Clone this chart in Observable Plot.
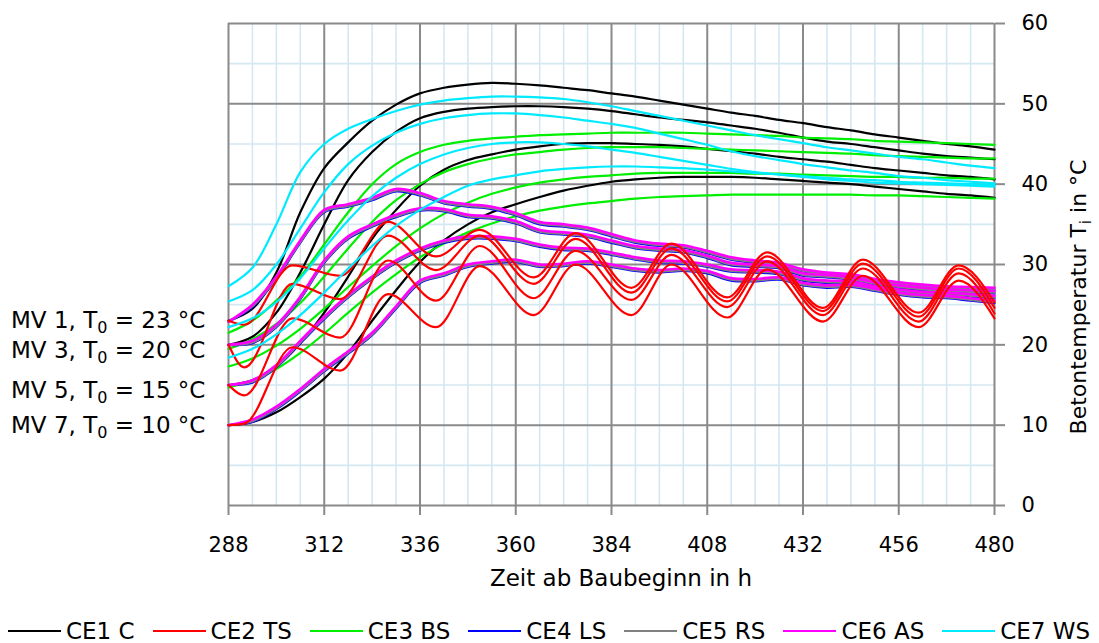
<!DOCTYPE html>
<html><head><meta charset="utf-8">
<script src="https://cdn.jsdelivr.net/npm/d3@7"></script>
<script src="https://cdn.jsdelivr.net/npm/@observablehq/plot@0.6"></script>
<style>
body{margin:0;background:#fff;font-family:"DejaVu Sans",sans-serif;}
#legend{display:flex;align-items:center;height:26px;padding-left:8px;font-size:23px;white-space:nowrap;color:#000}
.item{display:flex;align-items:center;margin-right:18px}
.sw{width:53px;height:0;border-top:2.5px solid;margin-right:5px}
</style></head><body>
<div id="chart"></div>
<div id="legend"></div>
<script>
// ---- axes / ticks ----
const xTicks = [288, 312, 336, 360, 384, 408, 432, 456, 480];
const xMinor = [294, 300, 306, 318, 324, 330, 342, 348, 354, 366, 372, 378, 390, 396, 402, 414, 420, 426, 438, 444, 450, 462, 468, 474];
const yTicks = [0, 10, 20, 30, 40, 50, 60];
const yMinor = [5, 15, 25, 35, 45, 55];

// ---- series meta ----
const seriesNames = ["CE1 C", "CE2 TS", "CE3 BS", "CE4 LS", "CE5 RS", "CE6 AS", "CE7 WS"];
const seriesColors = ["#000000", "#ff0000", "#00ee00", "#0000ff", "#808080", "#ff00ff", "#00eaff"];
const mvLabels = ["MV 1", "MV 3", "MV 5", "MV 7"];
const mvT0 = [23, 20, 15, 10];

// ---- common time axis (h) for smooth series ----
const hours = [288,294,300,306,312,318,324,330,336,342,348,354,360,366,372,378,384,390,396,402,408,414,420,426,432,438,444,450,456,462,468,474,480];

// CE1 C (black)
const c1 = [23.0,24.5,29.0,36.5,42.0,45.2,47.9,49.9,51.3,52.0,52.4,52.6,52.5,52.3,52.0,51.7,51.3,50.9,50.4,49.9,49.4,48.9,48.5,48.0,47.6,47.1,46.7,46.2,45.8,45.4,45.0,44.7,44.3];
const c2 = [20.0,21.0,24.0,29.0,35.0,40.5,44.0,46.5,48.2,49.0,49.4,49.6,49.7,49.7,49.6,49.4,49.1,48.7,48.3,48.0,47.7,47.3,46.9,46.4,45.8,45.3,45.0,44.6,44.2,43.8,43.5,43.3,43.1];
const c3 = [15.0,15.6,17.3,20.2,24.0,28.5,33.2,36.8,39.8,41.8,43.0,43.7,44.3,44.7,45.0,45.1,45.1,45.0,44.9,44.7,44.4,44.1,43.8,43.4,43.1,42.8,42.4,42.0,41.7,41.4,41.1,40.9,40.6];
const c4 = [10.0,10.4,11.6,13.5,15.8,19.0,23.0,26.8,30.3,33.0,35.0,36.5,37.5,38.4,39.2,39.8,40.3,40.6,40.8,40.9,40.9,40.9,40.8,40.6,40.4,40.2,40.0,39.7,39.4,39.1,38.8,38.6,38.3];

// CE3 BS (green)
const g1 = [21.5,23.0,25.5,28.5,32.5,36.5,40.0,42.5,44.0,44.9,45.4,45.7,45.9,46.1,46.2,46.3,46.4,46.4,46.4,46.4,46.3,46.2,46.1,46.0,45.8,45.7,45.6,45.4,45.3,45.2,45.1,45.0,44.9];
const g2 = [19.5,20.7,22.6,25.2,28.5,32.0,35.3,38.0,40.0,41.5,42.5,43.2,43.7,44.0,44.3,44.5,44.6,44.6,44.6,44.5,44.4,44.3,44.2,44.1,44.0,43.9,43.8,43.6,43.5,43.4,43.3,43.2,43.2];
const g3 = [17.3,18.3,19.9,22.0,24.5,27.2,29.8,32.3,34.5,36.3,37.7,38.8,39.6,40.2,40.6,40.9,41.1,41.3,41.4,41.4,41.4,41.4,41.3,41.3,41.2,41.1,41.0,40.9,40.9,40.8,40.8,40.7,40.7];
const g4 = [14.7,15.6,17.0,19.0,21.4,24.0,26.5,28.8,30.9,32.6,34.0,35.1,36.0,36.7,37.2,37.6,37.9,38.2,38.4,38.5,38.6,38.7,38.7,38.7,38.7,38.7,38.7,38.6,38.6,38.5,38.4,38.3,38.2];

// CE4 LS (blue)
const l1 = [22.9,24.7,28.2,32.7,36.5,37.2,38.0,39.1,38.6,37.6,37.2,36.9,36.1,35.0,34.7,34.3,33.5,32.7,32.3,32.1,31.4,30.6,30.2,29.9,29.1,28.7,28.5,27.9,27.5,27.2,27.0,26.9,26.8];
const l2 = [20.0,20.2,22.2,25.7,30.2,33.2,34.7,35.9,36.7,36.6,35.9,35.7,35.1,34.0,33.7,33.4,32.7,32.0,31.7,31.5,30.8,29.9,29.7,29.5,28.6,28.4,28.1,27.5,27.1,26.8,26.6,26.5,26.4];
const l3 = [15.0,15.3,17.2,20.2,23.2,25.9,28.2,30.2,31.7,32.7,33.2,33.2,32.9,32.2,31.8,31.7,31.2,30.6,30.2,30.1,29.7,29.1,29.0,28.8,28.0,27.7,27.6,27.0,26.6,26.3,26.2,26.0,25.8];
const l4 = [10.0,10.4,12.0,14.2,16.7,18.9,21.2,24.5,27.7,28.6,29.7,30.1,30.3,29.7,29.8,30.1,29.7,29.2,29.0,29.2,28.9,28.0,27.9,28.1,27.4,27.1,27.2,26.7,26.2,25.9,25.8,25.5,25.2];

// CE5 RS (gray)
const r1 = [22.9,24.8,28.3,32.8,36.6,37.3,38.1,39.2,38.7,37.7,37.3,37.0,36.2,35.1,34.8,34.4,33.6,32.8,32.4,32.2,31.5,30.7,30.3,30.0,29.2,28.8,28.6,28.0,27.6,27.3,27.1,27.0,26.9];
const r2 = [20.0,20.3,22.3,25.8,30.3,33.3,34.8,36.0,36.8,36.7,36.0,35.8,35.2,34.1,33.8,33.5,32.8,32.1,31.8,31.6,30.9,30.0,29.8,29.6,28.7,28.5,28.2,27.6,27.2,26.9,26.7,26.6,26.5];
const r3 = [15.0,15.4,17.3,20.3,23.3,26.0,28.3,30.3,31.8,32.8,33.3,33.3,33.0,32.3,31.9,31.8,31.3,30.7,30.3,30.2,29.8,29.2,29.1,28.9,28.1,27.8,27.7,27.1,26.7,26.4,26.3,26.1,25.9];
const r4 = [10.0,10.5,12.1,14.3,16.8,19.0,21.3,24.6,27.8,28.7,29.8,30.2,30.4,29.8,29.9,30.2,29.8,29.3,29.1,29.3,29.0,28.1,28.0,28.2,27.5,27.2,27.3,26.8,26.3,26.0,25.9,25.6,25.3];

// CE6 AS (magenta)
const m1 = [22.9,25.0,28.5,33.0,36.8,37.5,38.3,39.4,38.9,37.9,37.5,37.2,36.4,35.3,35.0,34.6,33.8,33.0,32.6,32.4,31.7,30.9,30.5,30.2,29.4,29.0,28.8,28.2,27.8,27.5,27.3,27.2,27.1];
const m2 = [20.0,20.5,22.5,26.0,30.5,33.5,35.0,36.2,37.0,36.9,36.2,36.0,35.4,34.3,34.0,33.7,33.0,32.3,32.0,31.8,31.1,30.2,30.0,29.8,28.9,28.7,28.4,27.8,27.4,27.1,26.9,26.8,26.7];
const m3 = [15.0,15.6,17.5,20.5,23.5,26.2,28.5,30.5,32.0,33.0,33.5,33.5,33.2,32.5,32.1,32.0,31.5,30.9,30.5,30.4,30.0,29.4,29.3,29.1,28.3,28.0,27.9,27.3,26.9,26.6,26.5,26.3,26.1];
const m4 = [10.0,10.7,12.3,14.5,17.0,19.2,21.5,24.8,28.0,28.9,30.0,30.4,30.6,30.0,30.1,30.4,30.0,29.5,29.3,29.5,29.2,28.3,28.2,28.4,27.7,27.4,27.5,27.0,26.5,26.2,26.1,25.8,25.5];

// CE7 WS (cyan)
const w1 = [27.3,29.6,35.0,41.5,45.0,46.9,48.1,49.1,49.9,50.4,50.7,50.9,50.9,50.8,50.6,50.2,49.7,49.1,48.5,47.9,47.3,46.7,46.1,45.6,45.1,44.6,44.2,43.8,43.4,43.1,42.7,42.3,42.0];
const w2 = [25.4,26.8,30.0,34.5,39.0,42.5,44.8,46.4,47.5,48.2,48.6,48.8,48.8,48.6,48.3,47.9,47.5,47.0,46.3,45.6,44.9,44.1,43.5,43.0,42.5,42.1,41.7,41.4,41.0,40.8,40.5,40.3,40.1];
const w3 = [22.2,23.3,25.3,28.3,32.0,35.5,38.5,40.8,42.5,43.7,44.5,45.0,45.2,45.2,45.0,44.7,44.3,43.9,43.4,42.9,42.4,41.9,41.5,41.2,40.9,40.6,40.4,40.2,40.1,40.0,39.9,39.8,39.7];
const w4 = [18.4,19.5,21.3,23.7,26.5,29.5,32.3,34.8,36.8,38.4,39.8,40.6,41.1,41.6,41.9,42.1,42.2,42.2,42.1,42.0,41.8,41.6,41.4,41.2,41.0,40.8,40.6,40.5,40.3,40.2,40.1,40.0,39.9];

// CE2 TS (red) – sampled at its daily extremes
const redHours = [288, 292, 304, 316, 328, 340, 351, 364.5, 375, 389, 399, 413, 423, 437, 447, 461, 471, 480];
const t1 = [23.0,22.5,29.9,28.6,35.3,31.0,34.3,28.4,33.9,27.1,32.6,25.9,31.5,24.6,30.6,24.0,29.9,25.3];
const t2 = [20.0,17.2,27.6,25.7,33.6,29.3,33.6,27.6,33.2,26.5,32.0,25.4,31.0,24.2,30.1,23.5,29.5,24.6];
const t3 = [15.0,13.7,23.3,20.9,30.5,25.5,32.3,25.8,31.7,25.6,31.2,24.7,30.4,23.7,29.5,22.9,28.9,23.9];
const t4 = [10.0,10.2,19.7,16.8,26.3,22.2,29.8,23.7,30.0,23.7,30.0,23.4,29.4,22.9,28.6,22.2,28.0,23.3];

function rows(series, hs, arrays) {
  const out = [];
  arrays.forEach((arr, i) => arr.forEach((v, j) => out.push({series, mv: mvLabels[i], h: hs[j], v})));
  return out;
}
const dC = rows("CE1 C", hours, [c1, c2, c3, c4]);
const dT = rows("CE2 TS", redHours, [t1, t2, t3, t4]);
const dB = rows("CE3 BS", hours, [g1, g2, g3, g4]);
const dL = rows("CE4 LS", hours, [l1, l2, l3, l4]);
const dR = rows("CE5 RS", hours, [r1, r2, r3, r4]);
const dA = rows("CE6 AS", hours, [m1, m2, m3, m4]);
const dW = rows("CE7 WS", hours, [w1, w2, w3, w4]);

const W = 1099, H = 618;
const minorCol = "#d4e8f1", majorCol = "#8a8a8a";
const line = (d, col, sw, curve) => Plot.line(d, {x: "h", y: "v", z: "mv", stroke: col, strokeWidth: sw, curve});

const plot = Plot.plot({
  width: W, height: H,
  marginLeft: 228, marginRight: 105, marginTop: 23, marginBottom: H - 505,
  style: {fontFamily: "DejaVu Sans", fontSize: "21px", color: "#000", background: "#fff", overflow: "visible"},
  x: {domain: [288, 480], label: null},
  y: {domain: [0, 60], label: null},
  marks: [
    Plot.gridX(xMinor, {stroke: minorCol, strokeOpacity: 1, strokeWidth: 1.6}),
    Plot.gridY(yMinor, {stroke: minorCol, strokeOpacity: 1, strokeWidth: 1.6}),
    Plot.gridX(xTicks, {stroke: majorCol, strokeOpacity: 1, strokeWidth: 2}),
    Plot.gridY(yTicks, {stroke: majorCol, strokeOpacity: 1, strokeWidth: 2}),
    Plot.axisX(xTicks, {tickSize: 10, tickPadding: 22, stroke: majorCol, strokeWidth: 2, fontSize: 21, tickFormat: d => String(d), label: null}),
    Plot.axisY(yTicks, {anchor: "right", tickSize: 10, tickPadding: 17, stroke: majorCol, strokeWidth: 2, fontSize: 21, textAnchor: "start", tickFormat: d => String(d), label: null}),
    line(dC, seriesColors[0], 2.2, "catmull-rom"),
    line(dB, seriesColors[2], 2.2, "catmull-rom"),
    line(dL, seriesColors[3], 2.2, "catmull-rom"),
    line(dR, seriesColors[4], 2.2, "catmull-rom"),
    line(dA, seriesColors[5], 2.6, "catmull-rom"),
    line(dT, seriesColors[1], 2.2, "monotone-x"),
    line(dW, seriesColors[6], 2.2, "catmull-rom")
  ]
});
document.getElementById("chart").appendChild(plot);

// extra texts with subscripts (baseline nudges are layout only)
const labelNudge = [8, 14, 13, 8];
const svg = d3.select(plot);
const ys = plot.scale("y");
const lblG = svg.append("g").attr("font-family", "DejaVu Sans").attr("font-size", 23).attr("fill", "#000").attr("text-anchor", "start");
mvLabels.forEach((lab, i) => {
  const t = lblG.append("text").attr("x", 11).attr("y", ys.apply(mvT0[i]) + labelNudge[i]).attr("text-anchor", "start");
  t.append("tspan").text(lab + ", T");
  t.append("tspan").attr("dy", 5).attr("font-size", 16).text("0");
  t.append("tspan").attr("dy", -5).text(" = " + mvT0[i] + " °C");
});
svg.append("text").attr("x", 621).attr("y", 586).attr("text-anchor", "middle")
  .attr("font-family", "DejaVu Sans").attr("font-size", 23).text("Zeit ab Baubeginn in h");
const yt = svg.append("text").attr("transform", "translate(1086,297) rotate(-90)").attr("text-anchor", "middle")
  .attr("font-family", "DejaVu Sans").attr("font-size", 22);
yt.append("tspan").text("Betontemperatur T");
yt.append("tspan").attr("dy", 5).attr("font-size", 15).text("i");
yt.append("tspan").attr("dy", -5).text(" in °C");

// legend
const leg = d3.select("#legend");
seriesNames.forEach((n, i) => {
  const it = leg.append("div").attr("class", "item");
  it.append("div").attr("class", "sw").style("border-color", seriesColors[i]);
  it.append("span").text(n);
});
</script>
</body></html>
